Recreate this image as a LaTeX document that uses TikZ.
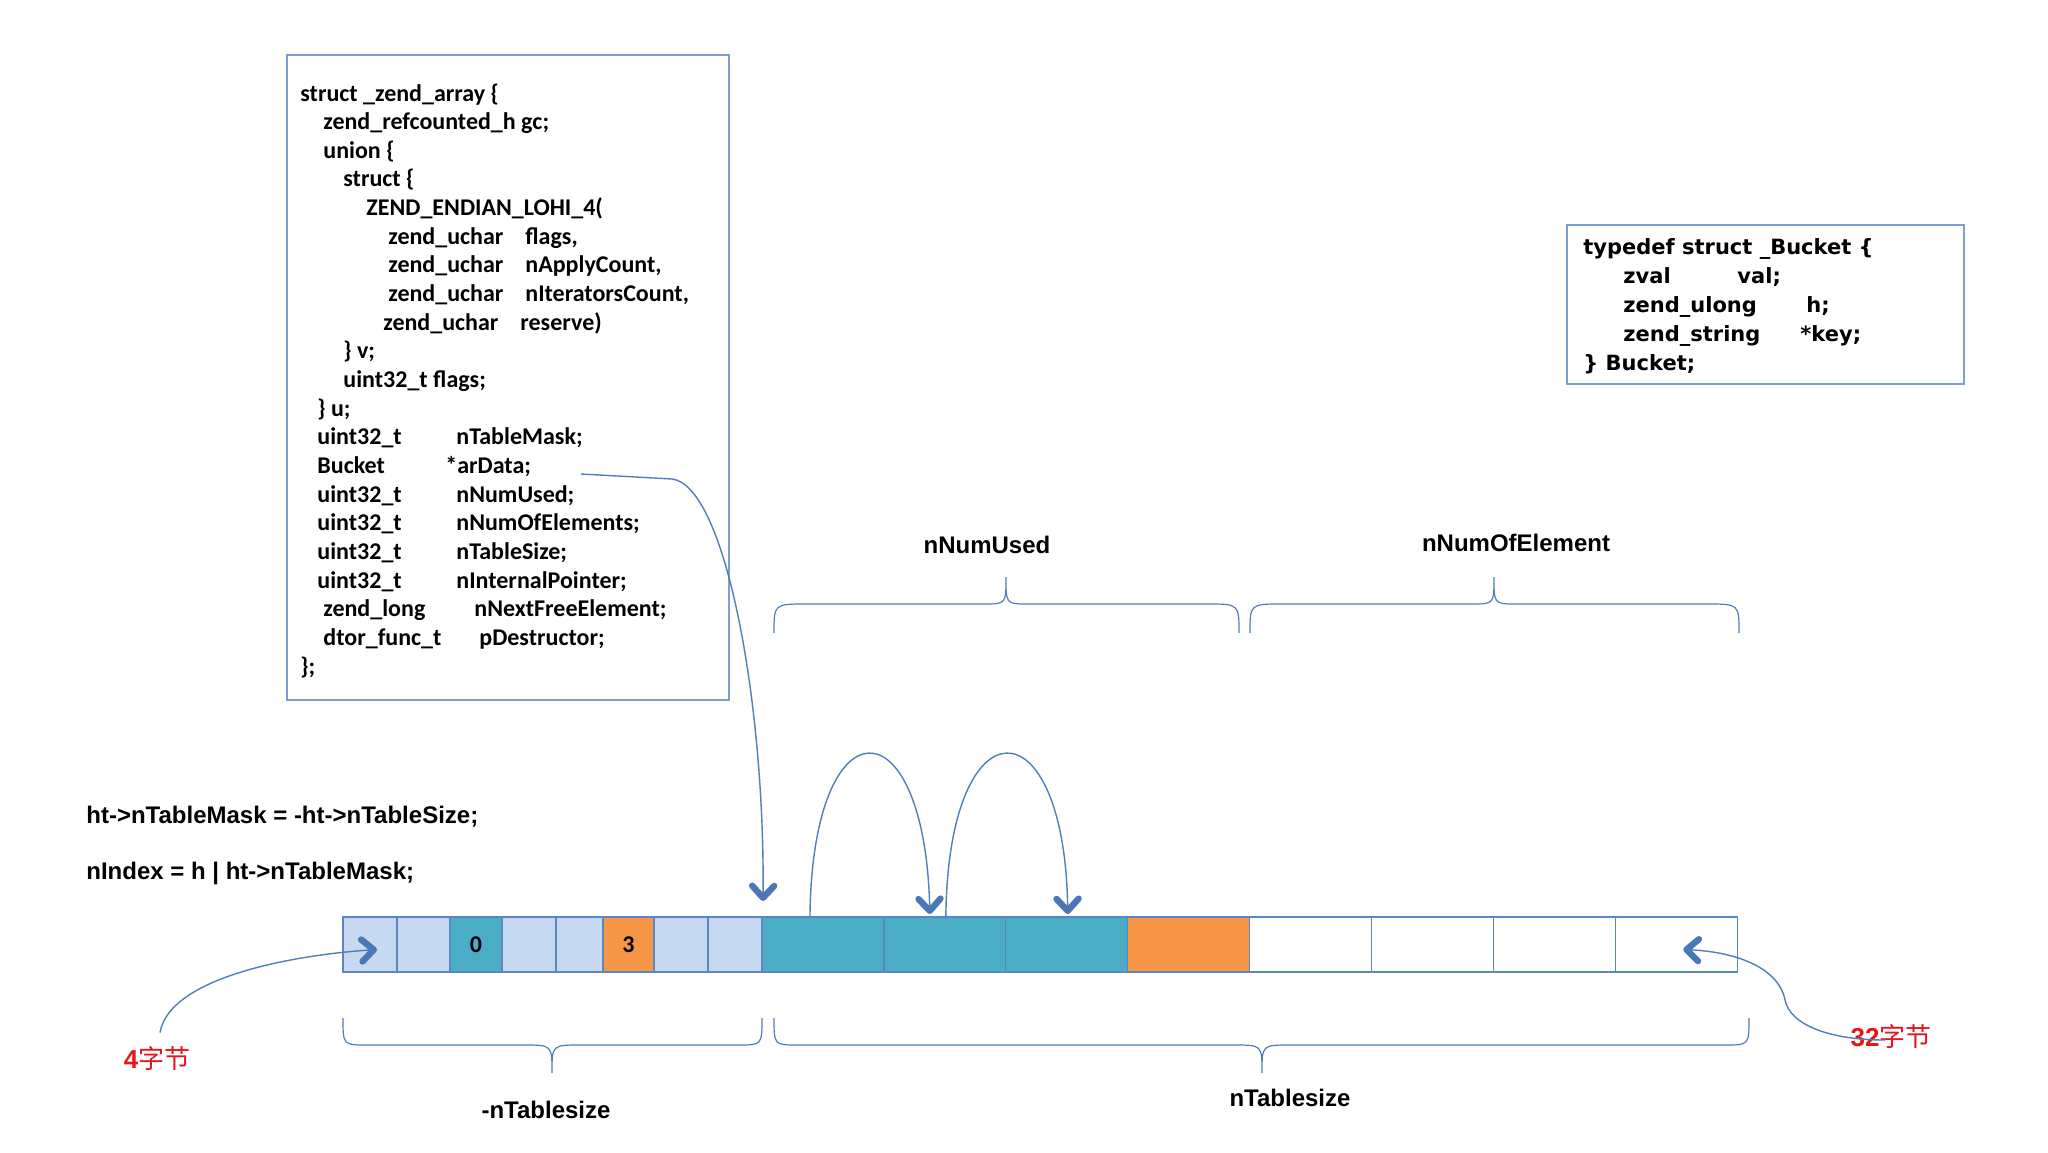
\documentclass[tikz,border=0pt]{standalone}
\usepackage{fontspec}
\setmainfont{Carlito}
\newfontfamily\codefont{Carlito}
\newfontfamily\arialfont{Liberation Sans}
\newfontfamily\bucketfont{DejaVu Sans}
\newfontfamily\cjkfont{Noto Sans CJK SC}
\usetikzlibrary{arrows.meta,calc}
\definecolor{lightcell}{HTML}{C6D9F1}
\definecolor{tealcell}{HTML}{4BACC6}
\definecolor{orangecell}{HTML}{F79646}
\definecolor{cellline}{HTML}{5B87C0}
\definecolor{boxline}{HTML}{7F9FD2}
\definecolor{arrblue}{HTML}{4F7FBD}
\definecolor{tipblue}{HTML}{4A78B5}
\definecolor{lblred}{HTML}{E8141B}
\newcommand\mkcell[5]{%
  \pgfmathsetmacro\cw{(#3-#2)/2}%
  \pgfmathsetmacro\cx{(#2+#3)/2}%
  \node[cellsty,fill=#4,minimum width=\cw pt] (#1) at (\cx,944.5) {#5};}
\newcommand\codeln[4]{\node[code,anchor=base west] (#1) at (#2,{101+#3*28.65}) {#4};}
\newcommand\bkln[4]{\node[bcode,anchor=base west] (#1) at (#2,#3) {#4};}
% brace: xl, xm, xr, ytip, yflat, ypoint, corner, cusp
\newcommand\mybrace[8]{\draw[bracesty] (#1,#4) .. controls (#1,#5) .. ({#1+#7},#5) -- ({#2-#8},#5) .. controls (#2,#5) .. (#2,#6) .. controls (#2,#5) .. ({#2+#8},#5) -- ({#3-#7},#5) .. controls (#3,#5) .. (#3,#4);}
\begin{document}
\begin{tikzpicture}[x=0.5pt,y=-0.5pt,
  cellsty/.style={draw=cellline,line width=0.6pt,minimum height=27.5pt,inner sep=0pt,outer sep=0pt,font=\codefont\bfseries\fontsize{12}{14}\selectfont},
  boxsty/.style={draw=boxline,line width=0.7pt,inner sep=0pt,outer sep=0pt},
  code/.style={inner sep=0pt,font=\codefont\bfseries\fontsize{12}{14}\selectfont},
  bcode/.style={inner sep=0pt,font=\bucketfont\bfseries\fontsize{10.5}{13}\selectfont},
  lbl/.style={inner sep=0pt,font=\arialfont\bfseries\fontsize{12}{14}\selectfont},
  redlbl/.style={inner sep=0pt,text=lblred,font=\fontsize{13}{15}\selectfont},
  bracesty/.style={draw=arrblue,line width=0.6pt},
  arr/.style={draw=arrblue,line width=0.7pt,-{Straight Barb[length=6pt,width=11pt,line width=3.2pt,round,color=tipblue]}}]
\fill[white] (0,0) rectangle (2048,1152);
\useasboundingbox (0,0) rectangle (2048,1152);

% struct box
\node[boxsty,minimum width=221pt,minimum height=322.5pt,anchor=north west] (zarray) at (287,55) {};
\codeln{z0}{300}{0}{struct \_zend\_array \{}
\codeln{z1}{323}{1}{zend\_refcounted\_h gc;}
\codeln{z2}{323}{2}{union \{}
\codeln{z3}{343}{3}{struct \{}
\codeln{z4}{366}{4}{ZEND\_ENDIAN\_LOHI\_4(}
\codeln{z5}{388}{5}{zend\_uchar}
\codeln{z5b}{525}{5}{flags,}
\codeln{z6}{388}{6}{zend\_uchar}
\codeln{z6b}{525}{6}{nApplyCount,}
\codeln{z7}{388}{7}{zend\_uchar}
\codeln{z7b}{525}{7}{nIteratorsCount,}
\codeln{z8}{383}{8}{zend\_uchar}
\codeln{z8b}{520}{8}{reserve)}
\codeln{z9}{343}{9}{\} v;}
\codeln{z10}{343}{10}{uint32\_t flags;}
\codeln{z11}{317}{11}{\} u;}
\codeln{z12}{317}{12}{uint32\_t}
\codeln{z12b}{456}{12}{nTableMask;}
\codeln{z13}{317}{13}{Bucket}
\codeln{ardata}{445}{13}{*arData;}
\codeln{z14}{317}{14}{uint32\_t}
\codeln{z14b}{456}{14}{nNumUsed;}
\codeln{z15}{317}{15}{uint32\_t}
\codeln{z15b}{456}{15}{nNumOfElements;}
\codeln{z16}{317}{16}{uint32\_t}
\codeln{z16b}{456}{16}{nTableSize;}
\codeln{z17}{317}{17}{uint32\_t}
\codeln{z17b}{456}{17}{nInternalPointer;}
\codeln{z18}{323}{18}{zend\_long}
\codeln{z18b}{474}{18}{nNextFreeElement;}
\codeln{z19}{323}{19}{dtor\_func\_t}
\codeln{z19b}{479}{19}{pDestructor;}
\codeln{z20}{300}{20}{\};}

% bucket box
\node[boxsty,minimum width=198.5pt,minimum height=79.5pt,anchor=north west] (bucket) at (1567,225) {};
\bkln{k0}{1583}{254}{typedef struct \_Bucket \{}
\bkln{k1}{1623}{283}{zval}
\bkln{k1b}{1737}{283}{val;}
\bkln{k2}{1623}{312}{zend\_ulong}
\bkln{k2b}{1806}{312}{h;}
\bkln{k3}{1623}{341}{zend\_string}
\bkln{k3b}{1800}{341}{*key;}
\bkln{k4}{1583}{370}{\} Bucket;}

% formulas
\node[lbl,anchor=base west] (f1) at (86,823) {ht->nTableMask = -ht->nTableSize;};
\node[lbl,anchor=base west] (f2) at (86,879) {nIndex = h | ht->nTableMask;};

% cells
\mkcell{c1}{343}{397}{lightcell}{}
\mkcell{c2}{397}{450}{lightcell}{}
\mkcell{c3}{450}{502}{tealcell}{0}
\mkcell{c4}{502}{556}{lightcell}{}
\mkcell{c5}{556}{603}{lightcell}{}
\mkcell{c6}{603}{654}{orangecell}{3}
\mkcell{c7}{654}{708}{lightcell}{}
\mkcell{c8}{708}{762}{lightcell}{}
\mkcell{b1}{762}{883.9}{tealcell}{}
\mkcell{b2}{883.9}{1005.8}{tealcell}{}
\mkcell{b3}{1005.8}{1127.7}{tealcell}{}
\mkcell{b4}{1127.7}{1249.6}{orangecell}{}
\mkcell{b5}{1249.6}{1371.5}{white}{}
\mkcell{b6}{1371.5}{1493.4}{white}{}
\mkcell{b7}{1493.4}{1615.3}{white}{}
\mkcell{b8}{1615.3}{1737.2}{white}{}

% braces
\mybrace{774}{1006}{1239}{633}{604}{577}{32}{22}
\mybrace{1250}{1494}{1739}{633}{604}{577}{32}{22}
\mybrace{343}{552}{762}{1018}{1045}{1073}{24}{28}
\mybrace{774}{1262}{1749}{1018}{1045}{1073}{24}{28}

% brace labels
\node[lbl] (lused) at (987,545) {nNumUsed};
\node[lbl] (lelem) at (1516,543) {nNumOfElement};
\node[lbl] (lneg) at (546,1110) {-nTablesize};
\node[lbl] (lpos) at (1290,1098) {nTablesize};

% byte labels
\node[redlbl] (four) at (157,1058) {{\arialfont\bfseries 4}{\cjkfont 字节}};
\node[redlbl] (thirtytwo) at (1891,1036) {{\arialfont\bfseries 32}{\cjkfont 字节}};

% arrows
\coordinate (ad0) at (581,474);
\draw[arr] (ad0) -- ++(91,5) .. controls +(53,6) and +(2,-200) .. ($(b1.north west)+(1,-16)$);
\draw[arr] ($(b1.north)+(-13,0)$) .. controls +(2,-217) and +(-5,-214) .. ($(b2.north)+(-15,-3)$);
\draw[arr] ($(b2.north)+(1,0)$) .. controls +(2,-217) and +(-3,-214) .. ($(b3.north)+(1,-3)$);
\draw[arr] ($(four.north)+(3,-13)$) .. controls +(10,-57) and +(-77,5) .. ($(c1.center)+(7,5)$);
\draw[arr] ($(thirtytwo.center)+(-6,4)$) .. controls +(-55,0) and +(5,25) .. (1785,1000) .. controls +(-7,-35) and +(47,2) .. ($(b8.center)+(7,5)$);
\end{tikzpicture}
\end{document}
